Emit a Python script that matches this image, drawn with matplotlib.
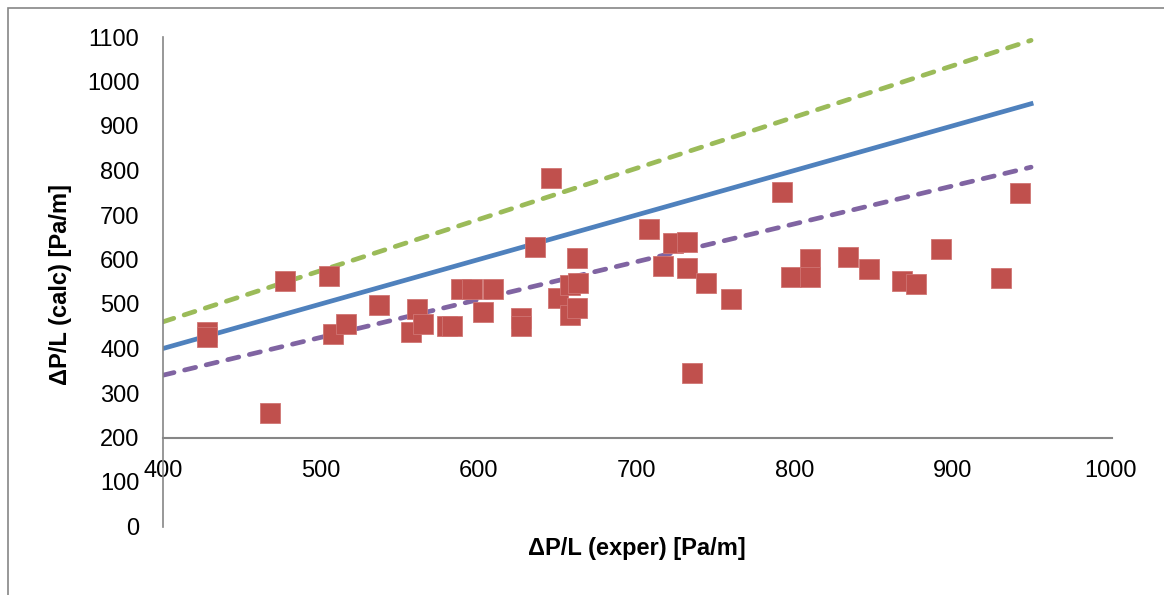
import matplotlib
matplotlib.use("Agg")
import matplotlib.pyplot as plt
from matplotlib.patches import Rectangle

# measured vs calculated pressure gradient [Pa/m]
dp_exper = [428, 428, 468, 477, 505, 508, 516, 537, 561, 557, 565, 580, 583,
            589, 596, 603, 609, 627, 627, 636, 646, 650, 658, 663, 662, 658,
            662, 708, 723, 732, 717, 732, 744, 760, 735, 792, 798, 810, 810,
            834, 847, 868, 877, 893, 931, 943]
dp_calc = [438, 426, 255, 552, 563, 433, 456, 497, 489, 436, 454, 451, 451,
           533, 533, 483, 533, 468, 451, 627, 783, 513, 543, 547, 603, 475,
           492, 669, 638, 640, 585, 581, 547, 512, 344, 752, 561, 601, 560,
           605, 578, 551, 545, 623, 558, 750]

# reference lines: perfect fit and +/-15 %
ref_x = [400, 950]
ref_y = [400, 950]
upper_y = [460, 1092.5]
lower_y = [340, 807.5]

fig = plt.figure(figsize=(11.64, 5.95), dpi=100)
ax = fig.add_axes([163 / 1164, 1 - 526.5 / 595, (1110 - 163) / 1164, (526.5 - 37) / 595])

dash = (0, (2.4, 2.3))
ax.plot(ref_x, upper_y, color="#9BBB59", lw=3.4, ls=dash, dash_capstyle="round")
ax.plot(ref_x, ref_y, color="#4F81BD", lw=3.4)
ax.plot(ref_x, lower_y, color="#8064A2", lw=3.4, ls=dash, dash_capstyle="round")
ax.plot(dp_exper, dp_calc, ls="none", marker="s", ms=14, color="#C0504D",
        markeredgecolor="#D07573", markeredgewidth=0.6)

ax.set_xlim(400, 1000)
ax.set_ylim(0, 1100)
ax.set_xticks(range(400, 1001, 100))
ax.set_yticks(range(0, 1101, 100))

for s in ("top", "right"):
    ax.spines[s].set_visible(False)
ax.spines["bottom"].set_position(("data", 200))
ax.spines["bottom"].set_color("#868686")
ax.spines["bottom"].set_linewidth(1.5)
ax.spines["left"].set_color("#868686")
ax.spines["left"].set_linewidth(1.2)
ax.spines["bottom"].set_bounds(400, 1001)

ax.tick_params(axis="x", length=0, pad=16, labelsize=17)
ax.tick_params(axis="y", length=0, pad=17, labelsize=17)
for lab in ax.get_xticklabels() + ax.get_yticklabels():
    lab.set_family("Liberation Sans")

fig.text(637 / 1164, 1 - 548 / 595, "ΔP/L (exper) [Pa/m]", ha="center", va="center",
         fontsize=17, fontweight="bold", family="Liberation Sans")
fig.text(60 / 1164, 1 - 284 / 595, "ΔP/L (calc) [Pa/m]", ha="center", va="center",
         rotation=90, fontsize=17, fontweight="bold", family="Liberation Sans")

# outer chart border (Excel style), runs off the right/bottom edge
fig.patches.append(Rectangle((8 / 1164, -0.05), 1.2, 1 - 8 / 595 + 0.05,
                             transform=fig.transFigure, fill=False,
                             edgecolor="#868686", lw=1.2))

fig.savefig("out.png", dpi=100)
